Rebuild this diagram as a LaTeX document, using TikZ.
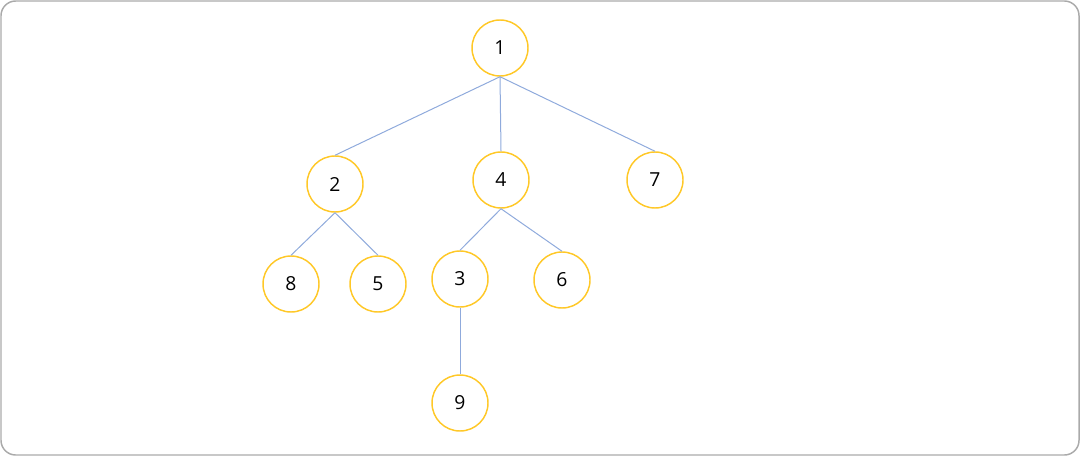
\documentclass[tikz,border=0pt]{standalone}
\usepackage{fontspec}
\setmainfont{Open Sans}
\definecolor{treeC0}{RGB}{255,200,40}
\definecolor{treeC1}{RGB}{143,170,220}
\definecolor{frameC}{RGB}{170,170,170}

\begin{document}
\begin{tikzpicture}[x=0.75pt,y=-0.75pt,
  vtx/.style={circle, draw=treeC0, line width=1.1pt, minimum size=42pt, inner sep=0pt, font=\fontsize{14.5}{17}\selectfont},
  edge/.style={color=treeC1, line width=0.75pt}]
\draw [color=frameC, line width=1.1pt, rounded corners=11pt] (1,1) rectangle (1079,455);
\useasboundingbox (0,0) rectangle (1080,456);
%
\node [vtx] (n1) at (500,48) {1};
\node [vtx] (n2) at (335,184) {2};
\node [vtx] (n4) at (501,180) {4};
\node [vtx] (n7) at (655,180) {7};
\node [vtx] (n8) at (291,284) {8};
\node [vtx] (n5) at (378,284) {5};
\node [vtx] (n3) at (460,279) {3};
\node [vtx] (n6) at (562,280) {6};
\node [vtx] (n9) at (460,403) {9};
%
\draw [edge] (n1.south) -- (n2.north);
\draw [edge] (n1.south) -- (n4.north);
\draw [edge] (n1.south) -- (n7.north);
\draw [edge] (n2.south) -- (n8.north);
\draw [edge] (n2.south) -- (n5.north);
\draw [edge] (n4.south) -- (n3.north);
\draw [edge] (n4.south) -- (n6.north);
\draw [edge] (n3.south) -- (n9.north);
%
\end{tikzpicture}
\end{document}
